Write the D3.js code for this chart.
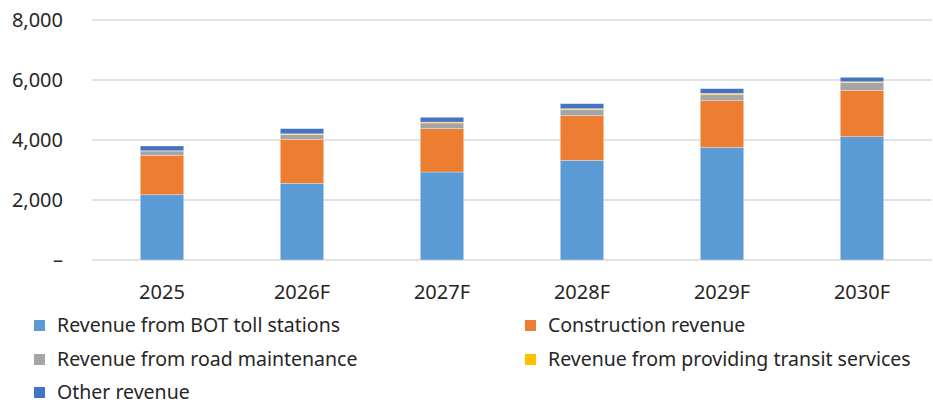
<!DOCTYPE html>
<html>
<head>
<meta charset="utf-8">
<script src="https://cdn.jsdelivr.net/npm/d3@7"></script>
<style>
  body { margin: 0; background: #fff; }
  text { font-family: "Noto Sans", "Open Sans", sans-serif; fill: #262626; }
</style>
</head>
<body>
<div id="chart"></div>
<script>
const years = ['2025', '2026F', '2027F', '2028F', '2029F', '2030F'];
const seriesNames = [
    'Revenue from BOT toll stations',
    'Construction revenue',
    'Revenue from road maintenance',
    'Revenue from providing transit services',
    'Other revenue'
];
const botToll = [2177, 2556, 2933, 3322, 3756, 4111];
const construction = [1313, 1466, 1445, 1489, 1555, 1544];
const roadMaintenance = [143, 156, 189, 200, 200, 256];
const transit = [10, 30, 33, 33, 45, 33];
const other = [157, 170, 156, 167, 155, 145];
const yTicks = [0, 2000, 4000, 6000, 8000];
const colors = ['#5B9BD5', '#ED7D31', '#A5A5A5', '#FFC000', '#4472C4'];

const width = 933, height = 405;
const margin = { top: 20, right: 1, bottom: 145, left: 92 };

const table = years.map((y, i) => ({
    year: y,
    s0: botToll[i], s1: construction[i], s2: roadMaintenance[i], s3: transit[i], s4: other[i]
}));
const keys = ['s0', 's1', 's2', 's3', 's4'];
const stacked = d3.stack().keys(keys)(table);

const svg = d3.select('#chart')
    .append('svg')
    .attr('width', width)
    .attr('height', height);

const x = d3.scaleBand()
    .domain(years)
    .range([margin.left, width - margin.right])
    .paddingInner(0.69)
    .paddingOuter(0.345);

const y = d3.scaleLinear()
    .domain([0, 8000])
    .range([height - margin.bottom, margin.top]);

// gridlines
svg.append('g')
    .selectAll('line')
    .data(yTicks)
    .join('line')
    .attr('x1', margin.left)
    .attr('x2', width - margin.right)
    .attr('y1', d => y(d))
    .attr('y2', d => y(d))
    .attr('stroke', '#d9d9d9')
    .attr('stroke-width', 1.5);

// y labels
svg.append('g')
    .selectAll('text')
    .data(yTicks)
    .join('text')
    .attr('x', 63)
    .attr('y', d => y(d))
    .attr('dy', '0.35em')
    .attr('text-anchor', 'end')
    .style('font-size', '20px')
    .text(d => d === 0 ? '–' : d3.format(',')(d));

// bars
svg.append('g')
    .selectAll('g')
    .data(stacked)
    .join('g')
    .attr('fill', (d, i) => colors[i])
    .selectAll('rect')
    .data(d => d)
    .join('rect')
    .attr('x', d => x(d.data.year))
    .attr('y', d => y(d[1]))
    .attr('width', x.bandwidth())
    .attr('height', d => y(d[0]) - y(d[1]))
    .attr('stroke', '#ffffff')
    .attr('stroke-opacity', 0.4)
    .attr('stroke-width', 0.75);

// x labels
svg.append('g')
    .selectAll('text')
    .data(years)
    .join('text')
    .attr('x', d => x(d) + x.bandwidth() / 2)
    .attr('y', 292)
    .attr('dy', '0.35em')
    .attr('text-anchor', 'middle')
    .style('font-size', '20px')
    .text(d => d);

// legend
const legendPos = [[34, 325], [525, 325], [34, 359], [525, 359], [34, 392]];
const legend = svg.append('g')
    .selectAll('g')
    .data(seriesNames)
    .join('g')
    .attr('transform', (d, i) => `translate(${legendPos[i][0]},${legendPos[i][1]})`);

legend.append('rect')
    .attr('x', 0)
    .attr('y', -5)
    .attr('width', 11)
    .attr('height', 11)
    .attr('fill', (d, i) => colors[i]);

legend.append('text')
    .attr('x', 23)
    .attr('y', 0)
    .attr('dy', '0.35em')
    .style('font-size', '19.5px')
    .text(d => d);
</script>
</body>
</html>
